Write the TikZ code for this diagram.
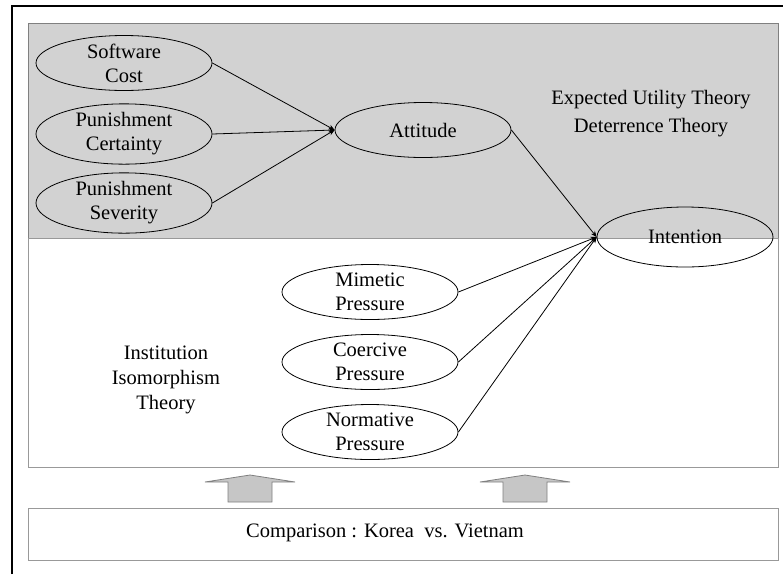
\documentclass[tikz,border=0pt]{standalone}
\usepackage{fontspec}
\setmainfont{Liberation Serif}
\usetikzlibrary{shapes.geometric,arrows.meta}

\tikzset{
  construct/.style={draw, thick, ellipse, minimum width=176pt, minimum height=55pt, inner sep=0pt, align=center, font=\fontsize{20.5}{24}\selectfont},
  theory/.style={align=center, font=\fontsize{20.5}{25}\selectfont},
  link/.style={thick, -{Stealth[length=6pt,width=5pt]}},
  bigarrow/.style={draw=gray, fill=gray!45, line width=0.8pt}
}

\begin{document}
\begin{tikzpicture}[x=1pt,y=-1pt]
\useasboundingbox (0,0) rectangle (783,574);

% frame and panels
\draw[line width=2.5pt] (12,574) -- (12,6) -- (783,6);
\draw[draw=gray, fill=gray!35] (28,23) rectangle (778,238);
\draw[draw=gray!80] (28,238) rectangle (778,467);
\draw[draw=gray!80] (28,508) rectangle (778,560);

% constructs
\node[construct] (cost) at (124,63) {Software\\Cost};
\node[construct] (certainty) at (124,134) {Punishment\\Certainty};
\node[construct] (severity) at (124,203) {Punishment\\Severity};
\node[construct] (attitude) at (423,130) {Attitude};
\node[construct, minimum height=60pt] (intention) at (685,237) {Intention};
\node[construct] (mimetic) at (370,292) {Mimetic\\Pressure};
\node[construct] (coercive) at (370,362) {Coercive\\Pressure};
\node[construct] (normative) at (370,432) {Normative\\Pressure};

% theories
\node[theory, font=\fontsize{20.5}{28}\selectfont] (eut) at (651,114) {Expected Utility Theory\\Deterrence Theory};
\node[theory] (iit) at (166,380) {Institution\\Isomorphism\\Theory};
\node[theory] (comparison) at (385,533) {Comparison : Korea~ vs. Vietnam};

% links
\draw[link] (cost.east) -- (attitude.west);
\draw[link] (certainty.east) -- (attitude.west);
\draw[link] (severity.east) -- (attitude.west);
\draw[link] (attitude.east) -- (intention.west);
\draw[link] (mimetic.east) -- (intention.west);
\draw[link] (coercive.east) -- (intention.west);
\draw[link] (normative.east) -- (intention.west);

% block arrows
\foreach \cx in {250,525}{
  \draw[bigarrow] (\cx-22,502) -- (\cx-22,482) -- (\cx-45,482) -- (\cx,475)
    -- (\cx+45,482) -- (\cx+22,482) -- (\cx+22,502) -- cycle;
}

\end{tikzpicture}
\end{document}
